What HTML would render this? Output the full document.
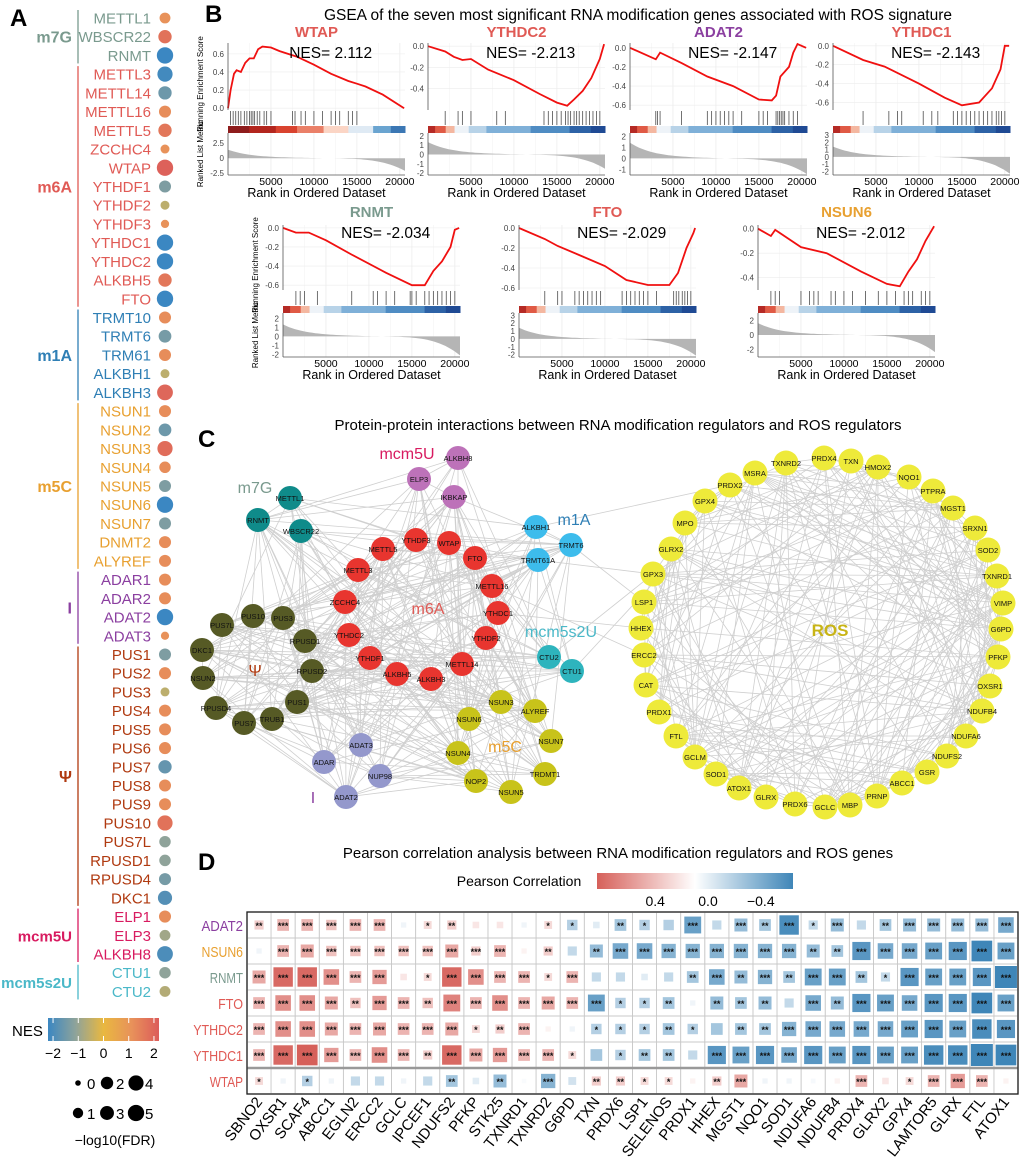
<!DOCTYPE html>
<html><head><meta charset="utf-8">
<style>
html,body{margin:0;padding:0;background:#fff;}
svg{display:block;font-family:"Liberation Sans",Arial,sans-serif;}
</style></head>
<body>
<svg id="fig" width="1020" height="1158" viewBox="0 0 1020 1158" xmlns="http://www.w3.org/2000/svg">
<defs>
<linearGradient id="nesGrad" x1="0" x2="1" y1="0" y2="0">
<stop offset="0" stop-color="#3b87c2"/><stop offset="0.25" stop-color="#8fa39a"/><stop offset="0.5" stop-color="#e9b840"/><stop offset="0.75" stop-color="#e8925a"/><stop offset="1" stop-color="#dc5c5a"/>
</linearGradient>
<linearGradient id="corGrad" x1="0" x2="1" y1="0" y2="0">
<stop offset="0" stop-color="#d6605a"/><stop offset="0.5" stop-color="#ffffff"/><stop offset="1" stop-color="#3f86b8"/>
</linearGradient>
</defs>
<g id="panelA"></g>
<g id="panelB"></g>
<g id="panelC"></g>
<g id="panelD"></g>
</svg>
<script>
// ---------------- DATA: Panel A ----------------
const aGroups = ["m7G","m6A","m1A","m5C","I","Ψ","mcm5U","mcm5s2U"];
const aGroupColors = ["#7a9a8e","#e05a55","#2f7fb5","#e8a030","#8b3fa0","#b03a10","#d81b60","#4ab8c8"];
const aGenes = ["METTL1","WBSCR22","RNMT","METTL3","METTL14","METTL16","METTL5","ZCCHC4","WTAP","YTHDF1","YTHDF2","YTHDF3","YTHDC1","YTHDC2","ALKBH5","FTO","TRMT10","TRMT6","TRM61","ALKBH1","ALKBH3","NSUN1","NSUN2","NSUN3","NSUN4","NSUN5","NSUN6","NSUN7","DNMT2","ALYREF","ADAR1","ADAR2","ADAT2","ADAT3","PUS1","PUS2","PUS3","PUS4","PUS5","PUS6","PUS7","PUS8","PUS9","PUS10","PUS7L","RPUSD1","RPUSD4","DKC1","ELP1","ELP3","ALKBH8","CTU1","CTU2"];
const aGeneGroup = [0,0,0,1,1,1,1,1,1,1,1,1,1,1,1,1,2,2,2,2,2,3,3,3,3,3,3,3,3,3,4,4,4,4,5,5,5,5,5,5,5,5,5,5,5,5,5,5,6,6,6,7,7];
const aNES = [1.0,1.6,-2.0,-1.9,-1.4,1.1,1.5,1.0,1.9,-1.2,-0.5,1.0,-2.0,-2.0,1.5,-2.0,1.1,-1.3,1.1,-0.5,1.8,1.1,-1.4,1.7,1.1,-1.2,-2.0,-1.2,1.1,1.1,1.1,1.1,-2.0,1.0,-1.2,1.1,-0.5,1.1,1.1,1.1,-1.5,1.1,1.1,1.6,-1.0,-1.0,-1.3,-1.7,1.1,-0.8,-1.8,-1.0,-0.6];
const aFDR = [1.2,2.6,5,4,2.6,1.8,2.6,0.5,5,1.8,0.5,0.3,5,5,2.6,5,1.8,2.2,1.8,0.5,4.5,1.8,2.2,4,1.5,1.8,5,1.8,1.8,1.8,1.8,1.8,5,0.3,1.8,1.8,0.5,1.8,1.8,1.8,2.6,1.8,1.8,4,1.5,1.5,1.8,3.2,1.8,1.2,4.5,1.5,1.2];
const nesTicks = [-2,-1,0,1,2];
const fdrLegend = [0,1,2,3,4,5];

// ---------------- DATA: Panel B ----------------
const bNames = ["WTAP","YTHDC2","ADAT2","YTHDC1","RNMT","FTO","NSUN6"];
const bNameColors = ["#e05a55","#e05a55","#8b3fa0","#e05a55","#7a9a8e","#e05a55","#e8a030"];
const bNES = ["2.112","-2.213","-2.147","-2.143","-2.034","-2.029","-2.012"];
const esRanks = [
 [0,300,700,1000,1500,2000,2500,3000,3500,4000,5000,6000,7000,8000,10000,12000,14000,15000,16000,18000,20500],
 [0,2000,3000,4000,5000,7000,10000,13000,15000,16200,17000,18000,19000,20000,20500],
 [0,3000,3500,6000,9000,12000,15000,16500,17000,17500,18500,19000,19500,20500],
 [0,3500,6000,10000,13000,15000,17000,18500,19500,20000,20500],
 [0,1500,3000,5000,8000,12000,15000,16500,17500,18500,19500,20000,20500],
 [0,3000,4500,7000,10000,12500,15000,17500,18500,19500,20300,20500],
 [0,1500,2000,5000,8000,12000,15000,16500,17500,18500,19500,20500]];
const esValues = [
 [0,0.2,0.38,0.42,0.40,0.50,0.55,0.55,0.65,0.68,0.67,0.63,0.60,0.57,0.48,0.38,0.30,0.27,0.24,0.15,0],
 [0,-0.05,-0.10,-0.13,-0.12,-0.22,-0.32,-0.45,-0.53,-0.56,-0.50,-0.42,-0.30,-0.12,0.02],
 [0,-0.12,-0.05,-0.16,-0.30,-0.40,-0.54,-0.55,-0.50,-0.30,-0.20,-0.05,0.04,0],
 [0,-0.15,-0.22,-0.40,-0.55,-0.63,-0.60,-0.45,-0.25,0,0],
 [0,-0.05,-0.05,-0.13,-0.28,-0.47,-0.60,-0.60,-0.45,-0.35,-0.20,-0.02,0],
 [0,-0.11,-0.18,-0.27,-0.38,-0.52,-0.57,-0.57,-0.45,-0.20,-0.05,0],
 [0,-0.06,-0.01,-0.15,-0.20,-0.35,-0.45,-0.47,-0.35,-0.25,-0.10,0.02]];
const esRange = [[-0.02,0.72],[-0.6,0.03],[-0.65,0.05],[-0.68,0.03],[-0.65,0.03],[-0.62,0.03],[-0.5,0.03]];
const esTicks = [[0,0.2,0.4,0.6],[0,-0.2,-0.4],[0,-0.2,-0.4,-0.6],[0,-0.2,-0.4,-0.6],[0,-0.2,-0.4,-0.6],[0,-0.2,-0.4,-0.6],[0,-0.2,-0.4]];
const hitRanks = [
 [300,600,900,1200,1500,1900,2200,2500,2700,2900,3100,3400,3700,4200,4500,5000,7500,7800,8500,9000,10000,11000,12000,12500,13000,14000,14500,15000],
 [2000,3500,4000,5000,8000,9000,13500,14000,14500,15000,15500,16000,16300,16600,17000,17300,17600,18000,18400,18800,19200,19600,20000],
 [3000,3200,3500,6000,9000,9500,10000,10500,11000,11500,12000,13000,15000,15500,16000,17000,17200,17400,17600,17800,18000,18500,19000,19500],
 [3500,6500,7500,8000,10500,11500,12200,14000,14500,15000,15500,16000,16500,17000,17500,18000,18500,19000,19300,19600,20000],
 [1500,2000,2500,4000,8000,10500,11000,12000,13000,14800,15000,15500,16500,17000,17500,18000,18500,19000,19500,20000],
 [3000,4500,5000,6500,7000,7500,8000,8500,9000,9500,12000,12500,13000,13500,14000,14500,15000,16000,18000,18300,18600,19000,19300,19600,20000],
 [1500,2000,2500,5000,6000,6500,7000,8500,9000,10000,11000,12500,14000,15000,16000,17000,17500,18000,19000,19500,20000]];
const rankedRange = [[-2.8,4.2],[-2.2,2.3],[-1.5,2.3],[-2.5,3.3],[-2.3,2.6],[-2.3,3.3],[-3,3]];
const rankedTicks = [[2.5,0,-2.5],[2,1,0,-1,-2],[2,1,0,-1],[3,2,1,0,-1,-2],[2,1,0,-1,-2],[3,2,1,0,-1,-2],[2,0,-2]];
const rankedMax = [1.3,1.2,1.3,1.3,1.2,1.3,1.5];
const rankedMin = [-2.0,-1.4,-1.3,-2.2,-2.0,-2.0,-2.2];
const xTicks = [5000,10000,15000,20000];
const barStopsPos = ["#8e1c1c","#b3261e","#d9432f","#ea8068","#fbd5c5","#dfeaf4","#6aa4d0","#3b77b4"];
const barStopsNeg = ["#b52a25","#e05a45","#f4b7a0","#eef3f8","#b8d3e8","#7fb0d8","#4f8cc3","#2d62a6","#1f4a94"];

// ---------------- DATA: Panel D ----------------
const dRows = ["ADAT2","NSUN6","RNMT","FTO","YTHDC2","YTHDC1","WTAP"];
const dRowColors = ["#8b3fa0","#e8a030","#7a9a8e","#e05a55","#e05a55","#e05a55","#e05a55"];
const dCols = ["SBNO2","OXSR1","SCAF4","ABCC1","EGLN2","ERCC2","GCLC","IPCEF1","NDUFS2","PFKP","STK25","TXNRD1","TXNRD2","G6PD","TXN","PRDX6","LSP1","SELENOS","PRDX1","HHEX","MGST1","NQO1","SOD1","NDUFA6","NDUFB4","PRDX4","GLRX2","GPX4","LAMTOR5","GLRX","FTL","ATOX1"];
const corADAT2 = [.2,.3,.3,.25,.3,.3,-.05,.15,.2,.1,.1,-.05,.15,-.25,-.1,-.3,-.25,-.25,-.5,-.2,-.35,-.3,-.6,-.2,-.35,-.2,-.3,-.35,-.35,-.35,-.35,-.45];
const corNSUN6 = [-.05,.3,.35,.25,.25,.25,.25,.25,.35,.2,.3,.05,.2,-.2,-.35,-.45,-.45,-.4,-.4,-.4,-.4,-.4,-.4,-.35,-.3,-.55,-.45,-.45,-.5,-.55,-.65,-.5];
const corRNMT = [.35,.6,.6,.45,.3,.4,.1,.15,.6,.45,.3,.3,.15,.3,-.2,-.2,-.1,-.2,-.3,-.45,-.35,-.4,-.3,-.5,-.5,-.3,-.2,-.55,-.5,-.5,-.55,-.7];
const corFTO = [.3,.45,.45,.35,.25,.4,.3,.25,.5,.3,.45,.3,.35,.3,-.5,-.25,-.25,-.3,-.05,-.35,-.3,-.35,-.2,-.45,-.35,-.55,-.5,-.45,-.55,-.55,-.65,-.5];
const corYTHDC2 = [.3,.45,.45,.35,.3,.35,.3,.3,.35,.15,.2,.3,.05,-.05,-.25,-.25,-.25,-.3,-.25,-.3,-.3,-.3,-.4,-.45,-.45,-.45,-.45,-.5,-.55,-.5,-.6,-.55];
const corYTHDC1 = [.3,.6,.65,.4,.3,.45,.3,.2,.6,.35,.4,.3,.3,.15,-.3,-.25,-.3,-.3,-.2,-.55,-.5,-.55,-.45,-.55,-.5,-.55,-.5,-.5,-.6,-.6,-.7,-.65];
const corWTAP = [.15,-.05,-.25,-.05,-.2,-.2,-.05,-.2,-.3,-.1,-.35,-.02,-.4,-.15,.2,.2,.15,.15,.05,.2,.35,-.05,-.05,-.03,.05,.3,.1,.15,.3,.4,.3,.05];
const starADAT2 = [2,3,3,3,3,3,0,1,2,0,0,0,1,1,0,2,1,0,3,0,3,2,3,1,3,0,2,3,3,3,3,3];
const starNSUN6 = [0,3,3,3,3,3,3,3,3,3,3,0,2,0,2,3,3,3,3,3,3,3,3,2,2,3,3,3,3,3,3,3];
const starRNMT = [3,3,3,3,3,3,0,1,3,3,3,3,1,3,0,0,0,0,2,3,2,3,2,3,3,2,1,3,3,3,3,3];
const starFTO = [3,3,3,3,2,3,3,2,3,3,3,3,3,3,3,1,1,2,0,2,2,2,0,3,2,3,3,3,3,3,3,3];
const starYTHDC2 = [3,3,3,3,3,3,3,3,3,1,2,3,0,0,1,1,1,2,1,0,2,2,3,3,3,3,3,3,3,3,3,3];
const starYTHDC1 = [3,3,3,3,3,3,3,2,3,3,3,3,3,1,0,1,2,2,0,3,3,3,3,3,3,3,3,3,3,3,3,3];
const starWTAP = [1,0,1,0,0,0,0,0,2,0,2,0,3,0,2,2,1,1,0,2,3,0,0,0,0,3,0,1,3,3,3,0];
const corTicks = [0.4,0.0,-0.4];

// ---------------- DATA: Panel C (layout) ----------------
const cNodes = ["ALKBH8","ELP3","IKBKAP","METTL1","RNMT","WBSCR22","YTHDF3","WTAP","METTL5","FTO","METTL3","METTL16","ZCCHC4","YTHDC1","YTHDC2","YTHDF2","YTHDF1","METTL14","ALKBH5","ALKBH3","ALKBH1","TRMT6","TRMT61A","CTU2","CTU1","PUS10","PUS3","PUS7L","RPUSD1","DKC1","NSUN2","RPUSD2","PUS1","RPUSD4","PUS7","TRUB1","ADAT3","ADAR","NUP98","ADAT2","NSUN3","ALYREF","NSUN6","NSUN7","NSUN4","TRDMT1","NOP2","NSUN5"];
const cNodeGroup = [0,0,0,1,1,1,2,2,2,2,2,2,2,2,2,2,2,2,2,2,3,3,3,4,4,5,5,5,5,5,5,5,5,5,5,5,6,6,6,6,7,7,7,7,7,7,7,7];
const cNodeX = [458,419,454,290,258,301,416,449,383,475,358,492,345,498,349,486,370,462,397,431,536,571,538,549,572,253,283,222,305,202,203,312,297,216,244,272,361,324,380,346,501,535,469,551,458,545,476,511];
const cNodeY = [458,479,497,498,520,531,540,543,549,558,570,586,602,613,635,638,658,664,674,679,527,545,560,657,671,616,618,625,641,650,678,671,702,708,723,719,745,762,776,797,702,711,719,741,753,774,781,792];
const cGroupFill = ["#bd72b9","#0f8b8a","#e8352f","#3dbcec","#2eb4bd","#565a25","#9498cc","#c8c31a"];
const rosNodes = ["PRDX4","TXN","HMOX2","NQO1","PTPRA","MGST1","SRXN1","SOD2","TXNRD1","VIMP","G6PD","PFKP","OXSR1","NDUFB4","NDUFA6","NDUFS2","GSR","ABCC1","PRNP","MBP","GCLC","PRDX6","GLRX","ATOX1","SOD1","GCLM","FTL","PRDX1","CAT","ERCC2","HHEX","LSP1","GPX3","GLRX2","MPO","GPX4","PRDX2","MSRA","TXNRD2"];
const rosX = [824,851,878,909,933,953,975,988,997,1003,1001,998,990,982,966,947,927,902,877,850,825,795,766,739,716,695,676,659,646,644,641,644,653,671,685,705,730,755,786];
const rosY = [458,461,467,477,491,508,528,550,576,603,629,657,686,711,736,756,772,783,796,805,807,804,797,788,774,757,736,712,685,655,628,602,574,549,523,501,485,473,463];

// ---------------- helpers ----------------
const NS="http://www.w3.org/2000/svg";
function mk(parent,tag,attrs,text){const e=document.createElementNS(NS,tag);for(const k in attrs)e.setAttribute(k,attrs[k]);if(text!==undefined)e.textContent=text;parent.appendChild(e);return e;}
function hex2rgb(h){return [parseInt(h.substr(1,2),16),parseInt(h.substr(3,2),16),parseInt(h.substr(5,2),16)];}
function mix(a,b,t){const A=hex2rgb(a),B=hex2rgb(b);return "rgb("+A.map((v,i)=>Math.round(v+(B[i]-v)*t)).join(",")+")";}

// ---------------- Panel A ----------------
(function(){
 const g=document.getElementById("panelA");
 const t=mk(g,"text",{x:10,y:26,"font-size":24,"font-weight":"bold"},"A");
 
 
 const yOf=i=>18+i*18.72;
 const nesColor=v=>{const s=["#3b87c2","#8fa39a","#e9b840","#e8925a","#dc5c5a"];const p=Math.max(0,Math.min(3.999,(v+2)));const k=Math.floor(p);return mix(s[k],s[k+1],p-k);};
 const rOf=f=>2.8+Math.sqrt(f)*2.4;
 aGenes.forEach((gn,i)=>{
  const c=aGroupColors[aGeneGroup[i]];
  const lt=mk(g,"text",{x:151,y:yOf(i)+5.5,"font-size":15,"text-anchor":"end",fill:c},gn);
  
  
  const d=mk(g,"circle",{cx:165,cy:yOf(i),r:rOf(aFDR[i]),fill:nesColor(aNES[i])});
  
  
 });
 aGroups.forEach((gr,k)=>{
  const idx=aGeneGroup.map((v,i)=>v===k?i:-1).filter(v=>v>=0);
  const y0=yOf(idx[0])-8,y1=yOf(idx[idx.length-1])+8;
  const ln=mk(g,"line",{x1:78,x2:78,y1:y0,y2:y1,stroke:aGroupColors[k],"stroke-width":1.3});
  
  
  const gt=mk(g,"text",{x:72,y:(y0+y1)/2+6,"font-size":gr.length>4?15:16,"font-weight":"bold","text-anchor":"end",fill:aGroupColors[k]},gr);
  
  
 });
 // NES legend
 const nl=mk(g,"text",{x:12,y:1036,"font-size":15},"NES");
 
 
 const bx0=48,bx1=159;
 const br=mk(g,"rect",{x:bx0,y:1018,width:bx1-bx0,height:23,fill:"url(#nesGrad)"});
 
 
 nesTicks.forEach(v=>{
  const x=bx0+ (v+2.2)/4.4*(bx1-bx0);
  mk(g,"line",{x1:x,x2:x,y1:1018,y2:1023,stroke:"#fff"});mk(g,"line",{x1:x,x2:x,y1:1036,y2:1041,stroke:"#fff"});
  const tl=mk(g,"text",{x:x,y:1058,"font-size":14,"text-anchor":"middle"},v<0?"−"+(-v):String(v));
  
  
 });
 fdrLegend.forEach((v,i)=>{
  const col=Math.floor(v/2),row=v%2;
  const cx=78+col*29,cy=1083+row*30;
  const c=mk(g,"circle",{cx:cx,cy:cy,r:rOf(v),fill:"#000"});
  
  
  const tt=mk(g,"text",{x:cx+9,y:cy+6,"font-size":15},String(v));
  
  
 });
 const ft=mk(g,"text",{x:115,y:1145,"font-size":14,"text-anchor":"middle"},"−log10(FDR)");
 
 
})();

// ---------------- Panel B ----------------
(function(){
 const g=document.getElementById("panelB");
 const L=mk(g,"text",{x:205,y:22,"font-size":24,"font-weight":"bold"},"B");
 
 
 const T=mk(g,"text",{x:638,y:20,"font-size":15.5,"text-anchor":"middle"},"GSEA of the seven most significant RNA modification genes associated with ROS signature");
 
 
 const lefts=[228,428,630,833,283,519,758], W=177;
 const rows=[{title:37,nes:58,esT:43,esB:110,hitB:125,barB:133,rkB:175,tick:185,xt:197},
             {title:217,nes:238,esT:225,esB:290,hitB:305,barB:313,rkB:357,tick:367,xt:379}];
 bNames.forEach((nm,p)=>{
  const R=rows[p<4?0:1], x0=lefts[p];
  const xs=r=>x0+r/20600*W;
  const pg=mk(g,"g",{});
  
  
  // grid
  xTicks.forEach(t=>{mk(pg,"line",{x1:xs(t),x2:xs(t),y1:R.esT,y2:R.rkB,stroke:"#ececec","stroke-width":0.8});
   mk(pg,"line",{x1:xs(t-2500),x2:xs(t-2500),y1:R.esT,y2:R.rkB,stroke:"#f4f4f4","stroke-width":0.6});});
  const [lo,hi]=esRange[p];
  const ys=v=>R.esB-(v-lo)/(hi-lo)*(R.esB-R.esT);
  esTicks[p].forEach(v=>{
   mk(pg,"line",{x1:x0,x2:x0+W,y1:ys(v),y2:ys(v),stroke:"#ececec","stroke-width":0.6});
   const tl=mk(pg,"text",{x:x0-4,y:ys(v)+3,"font-size":8,"text-anchor":"end",fill:"#444"},v.toFixed(1));
   
   
  });
  // ES line
  let d="";esRanks[p].forEach((r,i)=>{d+=(i?"L":"M")+xs(r).toFixed(1)+","+ys(esValues[p][i]).toFixed(1);});
  const ln=mk(pg,"path",{d:d,fill:"none",stroke:"#f01010","stroke-width":1.8});
  
  
  // hits
  hitRanks[p].forEach(r=>{
   const h=mk(pg,"line",{x1:xs(r),x2:xs(r),y1:R.esB+1,y2:R.hitB,stroke:"#222","stroke-width":0.8,"stroke-opacity":0.8});
   
   
  });
  // color bar
  const stops=p===0?barStopsPos:barStopsNeg;
  const widths=p===0?[0.12,0.15,0.12,0.15,0.14,0.14,0.1,0.08]:[0.04,0.06,0.05,0.08,0.1,0.25,0.22,0.12,0.08];
  let acc=0;stops.forEach((c,i)=>{const w=widths[i]*W;mk(pg,"rect",{x:x0+acc,y:R.hitB+1,width:w+0.5,height:R.barB-R.hitB-1,fill:c});acc+=w;});
  // ranked list
  const [rlo,rhi]=rankedRange[p];
  const yr=v=>R.rkB-(v-rlo)/(rhi-rlo)*(R.rkB-R.barB);
  rankedTicks[p].forEach(v=>{const tl=mk(pg,"text",{x:x0-4,y:yr(v)+3,"font-size":8,"text-anchor":"end",fill:"#444"},String(v));
   
   });
  let a="M"+x0+","+yr(0);
  for(let k=0;k<=60;k++){const t=k/60;const v=rankedMax[p]*Math.exp(-t*7)*(1-t)+ (t>0.5? rankedMin[p]*Math.pow((t-0.5)/0.5,4):0)+0.25*(0.5-t);a+="L"+xs(t*20600).toFixed(1)+","+yr(v).toFixed(1);}
  a+="L"+(x0+W)+","+yr(0)+"Z";
  const ar=mk(pg,"path",{d:a,fill:"#b5b5b5"});
  
  
  // axes
  mk(pg,"line",{x1:x0,x2:x0,y1:R.esT,y2:R.esB,stroke:"#555","stroke-width":0.8});
  mk(pg,"line",{x1:x0,x2:x0,y1:R.barB,y2:R.rkB,stroke:"#555","stroke-width":0.8});
  mk(pg,"line",{x1:x0,x2:x0+W,y1:R.rkB,y2:R.rkB,stroke:"#555","stroke-width":0.8});
  xTicks.forEach(t=>{const tl=mk(pg,"text",{x:xs(t),y:R.tick,"font-size":10.5,"text-anchor":"middle"},String(t));
   
   });
  const xt=mk(pg,"text",{x:x0+W/2,y:R.xt,"font-size":12.5,"text-anchor":"middle"},"Rank in Ordered Dataset");
  
  
  const tt=mk(pg,"text",{x:x0+W/2,y:R.title,"font-size":15,"font-weight":"bold","text-anchor":"middle",fill:bNameColors[p]},nm);
  
  
  const ne=mk(pg,"text",{x:x0+W*0.58,y:R.nes,"font-size":15.5,"text-anchor":"middle"},"NES= "+bNES[p]);
  
  
  if(p===0||p===4){
   const y1=mk(pg,"text",{x:0,y:0,"font-size":8,"text-anchor":"middle",transform:`translate(${x0-25},${(R.esT+R.hitB)/2}) rotate(-90)`},"Running Enrichment Score");
   
   
   const y2=mk(pg,"text",{x:0,y:0,"font-size":8,"text-anchor":"middle",transform:`translate(${x0-25},${(R.barB+R.rkB)/2}) rotate(-90)`},"Ranked List Metric");
   
   
  }
 });
})();

// ---------------- Panel C ----------------
(function(){
 const g=document.getElementById("panelC");
 const L=mk(g,"text",{x:198,y:447,"font-size":24,"font-weight":"bold"},"C");
 
 
 const T=mk(g,"text",{x:618,y:430,"font-size":15,"text-anchor":"middle"},"Protein-protein interactions between RNA modification regulators and ROS regulators");
 
 
 let seed=7;const rnd=()=>{seed=(seed*16807)%2147483647;return seed/2147483647;};
 const eg=mk(g,"g",{stroke:"#cfcfcf","stroke-width":0.8});
 
 
 const n=cNodes.length;
 for(let i=0;i<n;i++)for(let j=i+1;j<n;j++){if(rnd()<0.28)mk(eg,"line",{x1:cNodeX[i],y1:cNodeY[i],x2:cNodeX[j],y2:cNodeY[j]});}
 const m=rosNodes.length;
 for(let i=0;i<m;i++)for(let j=i+1;j<m;j++){if(rnd()<0.33)mk(eg,"line",{x1:rosX[i],y1:rosY[i],x2:rosX[j],y2:rosY[j]});}
 [[20,36],[22,32],[21,31],[13,30],[11,29],[24,37],[23,32]].forEach(([a,b])=>mk(eg,"line",{x1:cNodeX[a],y1:cNodeY[a],x2:rosX[b],y2:rosY[b]}));
 cNodes.forEach((nm,i)=>{
  const c=mk(g,"circle",{cx:cNodeX[i],cy:cNodeY[i],r:12,fill:cGroupFill[cNodeGroup[i]]});
  
  
  const t=mk(g,"text",{x:cNodeX[i],y:cNodeY[i]+3,"font-size":7.5,"text-anchor":"middle",fill:"#111"},nm);
  
  
 });
 rosNodes.forEach((nm,i)=>{
  const c=mk(g,"circle",{cx:rosX[i],cy:rosY[i],r:12.5,fill:"#eeea3a"});
  
  
  const t=mk(g,"text",{x:rosX[i],y:rosY[i]+3,"font-size":7.5,"text-anchor":"middle",fill:"#111"},nm);
  
  
 });
 const labs=[["mcm5U",407,459,"#d81b60"],["m7G",255,493,"#7a9a8e"],["m1A",574,525,"#2f7fb5"],["m6A",428,614,"#e05a55"],["mcm5s2U",561,637,"#4ab8c8"],["Ψ",255,676,"#b03a10"],["m5C",505,752,"#e8a030"],["I",313,803,"#8b3fa0"],["ROS",830,636,"#c8b416"]];
 labs.forEach(l=>{const t=mk(g,"text",{x:l[1],y:l[2],"font-size":l[0]==="ROS"?17:16,"text-anchor":"middle",fill:l[3],"font-weight":l[0]==="ROS"?"bold":"normal"},l[0]);
  
  });
})();

// ---------------- Panel D ----------------
(function(){
 const g=document.getElementById("panelD");
 const L=mk(g,"text",{x:198,y:870,"font-size":24,"font-weight":"bold"},"D");
 
 
 const T=mk(g,"text",{x:618,y:858,"font-size":15,"text-anchor":"middle"},"Pearson correlation analysis between RNA modification regulators and ROS genes");
 
 
 const lt=mk(g,"text",{x:519,y:886,"font-size":14,"text-anchor":"middle"},"Pearson Correlation");
 
 
 const lb=mk(g,"rect",{x:597,y:873,width:196,height:16,fill:"url(#corGrad)"});
 
 
 corTicks.forEach(v=>{const x=708-v*132;const t=mk(g,"text",{x:x,y:906,"font-size":14,"text-anchor":"middle"},v<0?"−"+(-v).toFixed(1):v.toFixed(1));
  
  });
 const cor=[corADAT2,corNSUN6,corRNMT,corFTO,corYTHDC2,corYTHDC1,corWTAP];
 const stars=[starADAT2,starNSUN6,starRNMT,starFTO,starYTHDC2,starYTHDC1,starWTAP];
 const x0=247,x1=1018,y0=912,y1=1094;
 const cw=(x1-x0)/dCols.length,ch=(y1-y0)/dRows.length;
 mk(g,"rect",{x:x0,y:y0,width:x1-x0,height:y1-y0,fill:"#fff",stroke:"#222","stroke-width":1.2});
 dRows.forEach((rn,r)=>{
  const rl=mk(g,"text",{x:x0-4,y:y0+ch*r+ch/2+6,"font-size":15,"text-anchor":"end",fill:dRowColors[r],"textLength":rn.length*8.3,"lengthAdjust":"spacingAndGlyphs"},rn);
  
  
  dCols.forEach((cn,c)=>{
   const cx=x0+cw*c,cy=y0+ch*r;
   mk(g,"rect",{x:cx,y:cy,width:cw,height:ch,fill:"none",stroke:"#c8c8c8","stroke-width":0.8});
   const v=cor[r][c];const a=Math.min(1,Math.abs(v)/0.7);
   const s=4+18*a;
   const col=v>0?mix("#ffffff","#d6605a",Math.min(1,a*1.1)):mix("#ffffff","#3f86b8",Math.min(1,a*1.1));
   const sq=mk(g,"rect",{x:cx+cw/2-s/2,y:cy+ch/2-s/2,width:s,height:s,fill:col});
   
   
   if(stars[r][c]>0){const st=mk(g,"text",{x:cx+cw/2,y:cy+ch/2+4,"font-size":9,"font-weight":"bold","text-anchor":"middle",fill:"#111"},"*".repeat(stars[r][c]));
    
    }
  });
 });
 mk(g,"line",{x1:x0,x2:x1,y1:y0+ch*6,y2:y0+ch*6,stroke:"#999","stroke-width":2.5});
 mk(g,"rect",{x:x0,y:y0,width:x1-x0,height:y1-y0,fill:"none",stroke:"#222","stroke-width":1.2});
 dCols.forEach((cn,c)=>{
  const x=x0+cw*c+cw/2+4,y=y1+8;
  const t=mk(g,"text",{x:0,y:0,"font-size":15,"text-anchor":"end",transform:`translate(${x},${y}) rotate(-52)`},cn);
  
  
 });
})();
</script>
</body></html>
